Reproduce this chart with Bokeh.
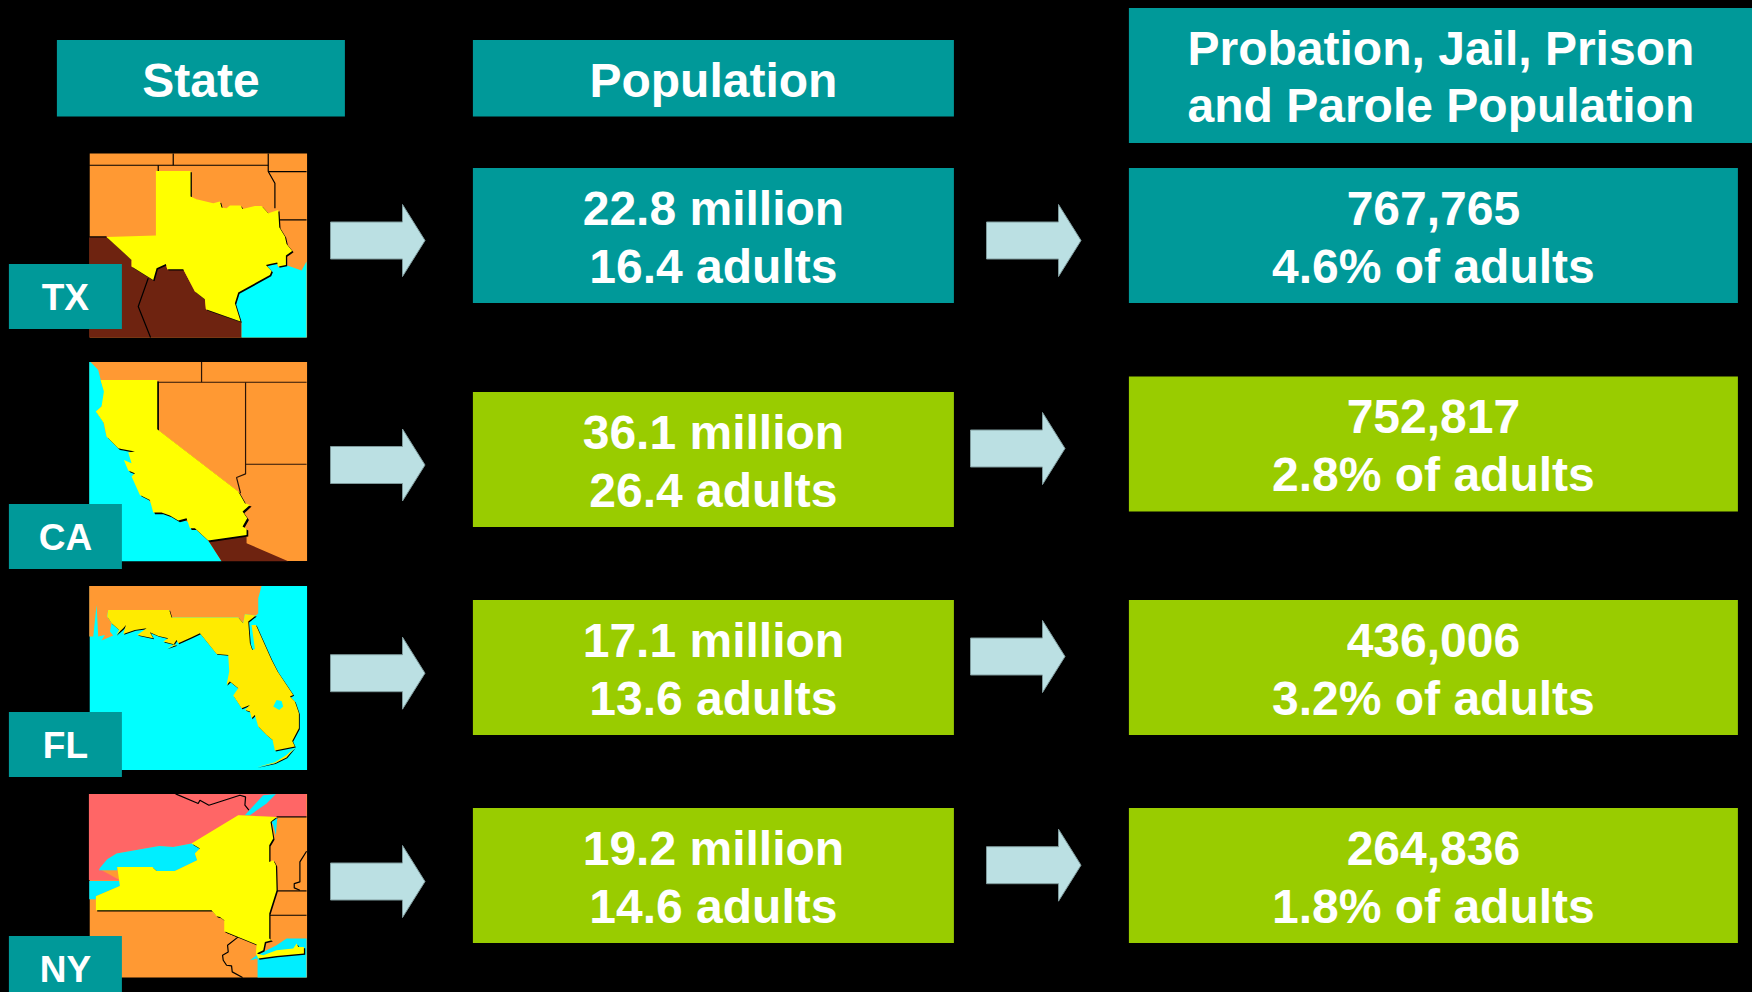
from bokeh.plotting import figure
from bokeh.models import Range1d
from bokeh.core.properties import value
from bokeh.embed import file_html
from bokeh.resources import INLINE

# ---- chart values ----
states = ["TX", "CA", "FL", "NY"]
population_m = ["22.8", "36.1", "17.1", "19.2"]
adults_m = ["16.4", "26.4", "13.6", "14.6"]
supervised = ["767,765", "752,817", "436,006", "264,836"]
pct_adults = ["4.6%", "2.8%", "3.2%", "1.8%"]
header_state = "State"
header_pop = "Population"
header_sup = ["Probation, Jail, Prison", "and Parole Population"]

# ---- palette ----
BG = "#000000"; TEAL = "#009999"; GREEN = "#99CC00"; ARROW = "#BBE0E3"
ORANGE = "#FF9933"; BROWN = "#6E2310"; CYAN = "#00FFFF"; YELLOW = "#FFFF00"
FL_YELLOW = "#FFEB00"; PINK = "#FF6666"; WHITE = "#FFFFFF"
FONT = value("Liberation Sans")

# ---- layout ----
row_colors = [TEAL, GREEN, GREEN, GREEN]
pop_top = [168, 392, 600, 808]
sup_top = [168, 376.5, 600, 808]
box_h = 135
tag_top = [264, 504, 712, 936]
tag_base = [310.3, 551, 758.7, 983]
left_arrow_y = [240.6, 465.1, 673.3, 881.6]
right_arrow_y = [240.6, 448.6, 656.6, 865.3]
right_arrow_x = [986.6, 970.6, 970.6, 986.6]
map_rect = [(153.7, 337.7), (362, 561), (586, 770), (794, 977.7)]
map_y0 = [140, 350, 575, 782]

# ---- state outlines (3x crop coordinates) ----
tx_brown = [(268,291),(320,291),(395,360),(395,380),(460,420),(470,385),(498,372),(502,388),(550,388),(585,455),(615,478),(618,508),(725,548),(725,593),(268,593)]
tx_cyan = [(725,593),(725,548),(705,490),(715,458),(810,405),(800,380),(830,368),(835,382),(858,375),(905,392),(920,365),(920,593)]
tx_state = [(468,93),(572,93),(572,170),(590,178),(640,190),(660,185),(665,203),(680,205),(690,197),(722,197),(728,207),(765,198),(785,198),(805,220),(835,210),(838,262),(855,290),(860,312),(877,333),(858,347),(858,375),(835,380),(832,368),(810,372),(798,375),(815,393),(810,405),(715,458),(705,490),(722,545),(618,508),(615,478),(585,455),(550,388),(502,388),(498,372),(470,385),(460,420),(395,380),(395,360),(320,291),(468,287)]
tx_lines = [[(268,76),(805,76)],[(520,41),(520,76)],[(805,41),(805,95),(825,130),(825,205)],[(805,95),(920,95)],[(840,240),(920,240)],[(475,76),(475,93)],[(268,291),(320,291)],[(445,415),(415,500),(452,593)]]

ca_cyan = [(268,36),(272,36),(295,60),(305,100),(315,130),(305,170),(288,185),(310,215),(320,260),(360,295),(410,305),(420,380),(430,430),(470,480),(520,490),(570,520),(625,572),(665,634),(268,634)]
ca_brown = [(625,572),(740,560),(740,580),(865,634),(665,634)]
ca_state = [(302,90),(472,90),(472,238),(715,425),(735,460),(750,465),(728,485),(742,505),(728,530),(740,537),(740,555),(625,572),(585,535),(570,535),(560,505),(535,512),(510,497),(485,488),(460,488),(450,450),(420,435),(395,380),(405,370),(385,362),(372,330),(395,340),(385,308),(405,305),(365,297),(355,295),(320,260),(312,220),(288,185),(305,170),(312,125)]
ca_lines = [[(605,36),(605,97)],[(472,97),(920,97)],[(737,97),(737,372),(710,383),(722,430)],[(737,343),(920,343)]]

fl_orange = [(268,33),(785,33),(775,70),(775,115),(768,122),(735,118),(730,145),(715,128),(515,128),(508,105),(325,105),(322,125),(335,145),(330,170),(340,182),(305,197),(315,180),(295,185),(290,90),(280,185),(268,185)]
fl_state = [(325,105),(508,105),(515,128),(715,128),(730,145),(735,118),(768,122),(745,140),(750,205),(757,225),(765,222),(755,150),(768,150),(815,255),(833,290),(880,360),(870,365),(885,380),(897,415),(897,460),(877,498),(885,515),(825,527),(818,495),(800,480),(775,455),(765,420),(755,430),(750,410),(735,405),(750,390),(725,400),(700,362),(715,340),(690,320),(680,330),(688,290),(685,240),(650,237),(620,200),(600,175),(575,187),(535,205),(530,195),(520,210),(500,220),(530,210),(490,200),(505,190),(475,183),(450,172),(460,190),(412,180),(440,160),(405,165),(370,177),(378,150),(370,160),(348,180),(358,165),(335,145),(322,125)]
fl_lake = [(830,375),(845,378),(850,395),(838,405),(820,395)]
fl_keys = [(885,518),(860,548),(825,565),(770,577),(825,562),(860,540)]

ny_pink = [(267,36),(920,36),(920,105),(830,105),(715,100),(575,185),(520,195),(478,192),(350,215),(325,232),(300,262),(360,295),(267,295)]
ny_ontario = [(350,215),(478,192),(520,195),(575,185),(600,200),(585,215),(592,235),(525,267),(470,267),(457,255),(352,255),(352,265),(297,265),(300,258),(322,232)]
ny_erie = [(268,297),(360,297),(360,312),(288,343),(288,352),(268,352)]
ny_river = [(735,100),(790,40),(828,36),(800,65),(750,100)]
ny_champlain = [(815,120),(832,108),(828,160),(820,130)]
ny_sound = [(773,587),(773,530),(750,535),(770,520),(830,490),(860,470),(920,470),(920,587)]
ny_state = [(715,100),(830,105),(812,120),(820,170),(808,190),(808,240),(820,235),(828,250),(830,325),(808,395),(808,470),(815,475),(795,480),(790,505),(770,515),(790,520),(830,505),(880,500),(890,485),(895,495),(912,495),(912,515),(830,522),(775,530),(768,515),(770,488),(673,448),(673,415),(660,405),(650,403),(635,385),(288,385),(288,343),(360,312),(352,255),(457,255),(470,267),(525,267),(592,235),(585,215),(600,200),(575,185)]
ny_lines = [[(830,105),(920,105)],[(920,208),(900,240),(900,300),(883,305),(883,318),(900,325)],[(830,327),(920,327)],[(808,400),(920,400)],[(678,450),(715,465),(683,490),(685,510),(668,520),(670,535),(680,550),(695,552),(697,570),(728,587)],[(527,36),(595,65),(600,55),(627,70),(720,40),(737,45),(735,70),(747,85)]]

p = figure(width=1752, height=992, x_range=Range1d(0.6, 1752.6), y_range=Range1d(992.6, 0.6),
           output_backend="svg", toolbar_location=None, min_border=0,
           background_fill_color=BG, border_fill_color=BG, outline_line_color=None,
           styles={"background-color": BG})
p.axis.visible = False
p.grid.visible = False


def box(x0, x1, y0, y1, color):
    p.quad(left=[x0], right=[x1], top=[y0], bottom=[y1], fill_color=color, line_color=None)


def label(x, y, s, size=48):
    p.text(x=[x], y=[y - 0.35 * size], text=[s], text_color=WHITE, text_font=FONT, text_font_style="bold",
           text_font_size=f"{size}px", text_align="center", text_baseline="alphabetic")


def shape(pts, y0, color, shadow=None):
    xs = [a / 3 for a, _ in pts]
    ys = [y0 + b / 3 for _, b in pts]
    if shadow:
        p.patch([v + shadow for v in xs], [v + shadow for v in ys], fill_color="#000000", line_color=None)
    p.patch(xs, ys, fill_color=color, line_color=None)


def lines(segs, y0, color="#2A1508", w=1.2):
    for s in segs:
        p.line([a / 3 for a, _ in s], [y0 + b / 3 for _, b in s], line_color=color, line_width=w)


def arrow(x, yc):
    xs = [x, x + 72, x + 72, x + 94.5, x + 72, x + 72, x]
    ys = [yc - 18.5, yc - 18.5, yc - 36, yc, yc + 36, yc + 18.5, yc + 18.5]
    p.patch(xs, ys, fill_color=ARROW, line_color="#7F9A9C", line_width=1)


# headers
box(57, 345, 40, 116.5, TEAL)
box(473, 954, 40, 116.5, TEAL)
box(1129, 1753, 8, 143, TEAL)
label(201, 97, header_state)
label(713.5, 97, header_pop)
label(1441, 65, header_sup[0])
label(1441, 122.7, header_sup[1])

# maps
xl, xr = 268 / 3 + 0.5, 920 / 3 + 0.5
box(xl, xr, *map_rect[0], ORANGE)
box(xl, xr, *map_rect[1], ORANGE)
box(xl, xr, *map_rect[2], CYAN)
box(xl, xr, *map_rect[3], ORANGE)

y0 = map_y0[0]
shape(tx_brown, y0, BROWN)
shape(tx_cyan, y0, CYAN)
lines(tx_lines, y0, "#000000")
shape(tx_state, y0, YELLOW, 1.3)

y0 = map_y0[1]
shape(ca_cyan, y0, CYAN)
shape(ca_brown, y0, BROWN)
lines(ca_lines, y0)
shape(ca_state, y0, YELLOW, 1.7)

y0 = map_y0[2]
shape(fl_orange, y0, ORANGE)
shape(fl_state, y0, FL_YELLOW, 0.9)
shape(fl_lake, y0, CYAN)
shape(fl_keys, y0, FL_YELLOW, 0.7)

y0 = map_y0[3]
shape(ny_pink, y0, PINK)
shape(ny_ontario, y0, "#00EEFF")
shape(ny_erie, y0, "#00EEFF")
shape(ny_river, y0, "#00EEFF")
shape(ny_sound, y0, "#00EEFF")
lines(ny_lines, y0, "#000000")
shape(ny_state, y0, YELLOW, 1.3)
shape(ny_champlain, y0, "#00EEFF")

# rows
for i, st in enumerate(states):
    box(9, 122, tag_top[i], tag_top[i] + 65, TEAL)
    label(65.5, tag_base[i], st, 37)
    arrow(330.6, left_arrow_y[i])
    arrow(right_arrow_x[i], right_arrow_y[i])
    box(473, 954, pop_top[i], pop_top[i] + box_h, row_colors[i])
    box(1129, 1738, sup_top[i], sup_top[i] + box_h, row_colors[i])
    label(713.5, pop_top[i] + 57, f"{population_m[i]} million")
    label(713.5, pop_top[i] + 114.9, f"{adults_m[i]} adults")
    label(1433.5, sup_top[i] + 57, supervised[i])
    label(1433.5, sup_top[i] + 114.9, f"{pct_adults[i]} of adults")

open("out.html", "w").write(file_html(p, INLINE))
